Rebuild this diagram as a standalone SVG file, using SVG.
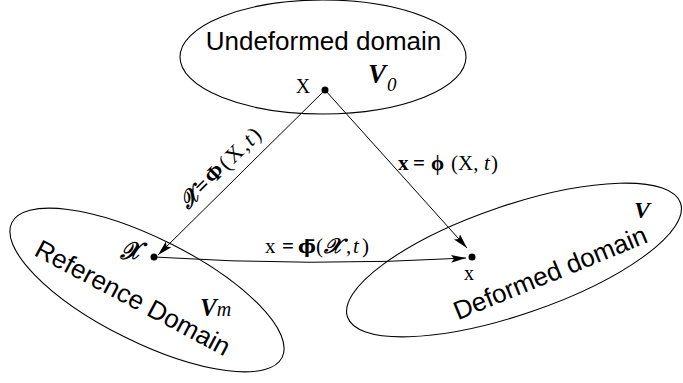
<svg xmlns="http://www.w3.org/2000/svg" width="683" height="383" viewBox="0 0 683 383">
<style>
.dom{fill:none;stroke:#000;stroke-width:1.1}
.big{font-family:"Liberation Sans",Arial,sans-serif;font-size:26px;fill:#000}
.math{font-family:"Liberation Serif","DejaVu Serif",serif;fill:#000}
.con{fill:none;stroke:#000;stroke-width:1}
.b{font-weight:bold}
.i{font-style:italic}
.scr{font-style:italic;font-weight:bold}
</style>
<defs>
<marker id="ah" markerUnits="userSpaceOnUse" markerWidth="16" markerHeight="10" refX="15" refY="4" orient="auto">
<path d="M0,0 L15,4 L0,8 L3,4 z" fill="#000"/>
</marker>
</defs>
<g id="undeformed">
<ellipse class="dom" cx="323" cy="57" rx="143" ry="57"/>
<text class="big" x="323.5" y="50" text-anchor="middle">Undeformed domain</text>
<text class="math" x="368" y="83" font-size="27" font-weight="bold" font-style="italic">V</text>
<text class="math" x="387" y="91" font-size="19" font-style="italic">0</text>
<circle cx="325" cy="90" r="3.5" fill="#000"/>
<text class="math" x="303" y="93" font-size="20" text-anchor="middle">X</text>
</g>
<g id="reference">
<ellipse class="dom" cx="147" cy="290" rx="151" ry="52" transform="rotate(26.5 147 290)"/>
<text class="big" x="128.6" y="305.7" text-anchor="middle" transform="rotate(28 128.6 305.7)">Reference Domain</text>
<text class="math" x="200" y="316" font-size="25" font-weight="bold" font-style="italic">V<tspan font-size="20" font-weight="normal">m</tspan></text>
<circle cx="154" cy="257" r="3.5" fill="#000"/>
<text class="math scr" x="130" y="259" font-size="24" text-anchor="middle">𝒳</text>
</g>
<g id="deformed">
<ellipse class="dom" cx="514" cy="260" rx="176" ry="54.5" transform="rotate(-18.9 514 260)"/>
<text class="big" x="553.5" y="281" text-anchor="middle" transform="rotate(-22.3 553.5 281)">Deformed domain</text>
<text class="math" x="634" y="218" font-size="24" font-weight="bold" font-style="italic">V</text>
<circle cx="472" cy="257" r="3.5" fill="#000"/>
<text class="math" x="469" y="280" font-size="20" text-anchor="middle">x</text>
</g>
<g id="connectors">
<path class="con" d="M325,90 L158,255" marker-end="url(#ah)"/>
<path class="con" d="M325,90 L467,248" marker-end="url(#ah)"/>
<path class="con" d="M154,257 Q310,267 466,258" marker-end="url(#ah)"/>
<text class="math" x="225" y="173" font-size="22" text-anchor="middle" textLength="105" transform="rotate(-44.6 225 173)"><tspan class="scr">𝒳</tspan><tspan class="b">=Φ</tspan>(X,<tspan class="i">t</tspan>)</text>
<text class="math" y="170" font-size="21"><tspan x="398" class="b">x</tspan><tspan x="413" class="b">=</tspan><tspan x="431" class="b">ϕ</tspan><tspan x="451">(X,</tspan><tspan x="484" class="i">t</tspan><tspan x="491">)</tspan></text>
<text class="math" y="253" font-size="21"><tspan x="265">x</tspan><tspan x="282" class="b">=</tspan><tspan x="298" class="b" font-family="DejaVu Serif" font-size="19">ϕ̄</tspan><tspan x="316">(</tspan><tspan x="324" class="scr">𝒳</tspan><tspan x="346">,</tspan><tspan x="353" class="i">t</tspan><tspan x="362">)</tspan></text>
</g>
</svg>
